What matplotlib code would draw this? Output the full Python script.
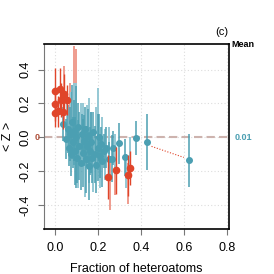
import matplotlib
matplotlib.use("Agg")
from matplotlib import pyplot as plt

plt.rcParams['font.family'] = ['Liberation Sans', 'DejaVu Sans']

# teal set, dark (with points)
teal_x = [0.04, 0.05, 0.06, 0.065, 0.07, 0.075, 0.08, 0.085, 0.09, 0.095, 0.10, 0.105,
          0.11, 0.115, 0.12, 0.125, 0.13, 0.135, 0.14, 0.145, 0.15, 0.155, 0.16, 0.165,
          0.17, 0.175, 0.18, 0.185, 0.19, 0.20, 0.205, 0.21, 0.215, 0.22, 0.23, 0.24,
          0.25, 0.265, 0.27, 0.30, 0.326, 0.377, 0.428, 0.623]
teal_y = [0.08, -0.01, 0.05, -0.06, 0.02, -0.10, 0.09, -0.03, 0.04, -0.08, 0.0, -0.12,
          0.06, -0.05, -0.15, 0.02, -0.09, -0.02, 0.05, -0.13, -0.05, 0.01, -0.17, -0.08,
          -0.03, -0.12, 0.03, -0.10, -0.16, -0.06, 0.0, -0.11, -0.04, -0.14, -0.08, -0.06,
          -0.13, -0.125, -0.065, -0.035, -0.118, -0.006, -0.03, -0.135]
teal_e = [0.10, 0.12, 0.14, 0.11, 0.16, 0.13, 0.22, 0.15, 0.18, 0.20, 0.30, 0.15,
          0.14, 0.20, 0.16, 0.12, 0.20, 0.15, 0.13, 0.20, 0.12, 0.16, 0.20, 0.14,
          0.18, 0.15, 0.12, 0.17, 0.17, 0.20, 0.14, 0.13, 0.10, 0.15, 0.10, 0.12,
          0.10, 0.14, 0.10, 0.12, 0.11, 0.10, 0.165, 0.155]

# teal set, light
tealb_x = [0.055, 0.075, 0.09, 0.10, 0.11, 0.12, 0.13, 0.14, 0.15, 0.16, 0.17, 0.18,
           0.19, 0.20, 0.21, 0.22, 0.235, 0.25, 0.28, 0.33, 0.35]
tealb_y = [0.10, 0.12, 0.08, 0.15, -0.10, 0.10, 0.05, -0.20, 0.08, -0.02, 0.05, -0.20,
           0.10, 0.05, -0.18, 0.02, -0.10, -0.02, -0.08, -0.20, -0.10]
tealb_e = [0.12, 0.15, 0.24, 0.17, 0.20, 0.10, 0.15, 0.15, 0.11, 0.25, 0.10, 0.12,
           0.08, 0.24, 0.12, 0.10, 0.15, 0.08, 0.10, 0.10, 0.10]

# red set, dark
red_x = [0.0, 0.0, 0.0, 0.014, 0.023, 0.028, 0.037, 0.042, 0.058, 0.246, 0.284, 0.34, 0.349]
red_y = [0.276, 0.194, 0.141, 0.153, 0.288, 0.218, 0.147, 0.253, 0.22, -0.235, -0.194, -0.224, -0.18]
red_e = [0.13, 0.10, 0.08, 0.09, 0.12, 0.10, 0.10, 0.12, 0.09, 0.13, 0.14, 0.12, 0.10]

# red set, light
redb_x = [0.045, 0.07, 0.09, 0.10, 0.256, 0.28, 0.34]
redb_y = [0.25, 0.20, 0.32, 0.28, -0.27, -0.22, -0.27]
redb_e = [0.17, 0.12, 0.22, 0.24, 0.16, 0.12, 0.12]

trend_x = [0.45, 0.60]
trend_y = [-0.053, -0.118]

teal = '#4b9fb2'
teal_l = '#95c8d4'
red = '#e0452a'
red_l = '#ef9c8e'

fig = plt.figure(figsize=(2.74, 2.74), dpi=100)
ax = fig.add_axes([0.1606, 0.1642, 0.675, 0.675])

ax.grid(True, color='#dddddd', linestyle=(0, (1, 2)), linewidth=0.8)
ax.set_axisbelow(True)

ax.axhline(0.005, color='#cdb3ae', linestyle=(0, (4, 2)), linewidth=1.5, zorder=1)

ax.errorbar(redb_x, redb_y, yerr=redb_e, fmt='none', ecolor=red_l, elinewidth=1.4, zorder=2)
ax.errorbar(tealb_x, tealb_y, yerr=tealb_e, fmt='none', ecolor=teal_l,
            elinewidth=1.4, zorder=3)
ax.errorbar(teal_x, teal_y, yerr=teal_e, fmt='o', color=teal, ecolor=teal,
            markersize=4, elinewidth=1.1, zorder=4)
ax.errorbar(red_x, red_y, yerr=red_e, fmt='o', color=red, ecolor=red,
            markersize=4.5, elinewidth=1.0, zorder=5)
ax.plot(trend_x, trend_y, color=red, linestyle=(0, (1, 1.5)), linewidth=0.8, zorder=5)

ax.set_xlim(-0.05, 0.81)
ax.set_ylim(-0.54, 0.55)
ax.set_xticks([0.0, 0.2, 0.4, 0.6, 0.8])
ax.set_xticklabels(['0.0', '0.2', '0.4', '0.6', '0.8'])
ax.set_yticks([-0.4, -0.2, 0.0, 0.2, 0.4])
ax.set_yticklabels(['-0.4', '-0.2', '0.0', '0.2', '0.4'], rotation=90, va='center')
ax.tick_params(labelsize=9, length=4, color='#777777', pad=5)

for s in ['top', 'right', 'bottom']:
    ax.spines[s].set_color('black')
    ax.spines[s].set_linewidth(1.2)
ax.spines['left'].set_color('#777777')

ax.set_xlabel('Fraction of heteroatoms', fontsize=9, labelpad=7)
ax.set_ylabel('< Z >', fontsize=9, labelpad=4)

fig.text(0.81, 0.865, '(c)', fontsize=8, ha='center', va='bottom')
fig.text(0.845, 0.838, 'Mean', fontsize=6.5, fontweight='bold', ha='left', va='center')
fig.text(0.855, 0.5, '0.01', fontsize=6.5, fontweight='bold', color=teal, ha='left', va='center')
fig.text(0.145, 0.5, '0', fontsize=6.5, fontweight='bold', color='#b0503a', ha='right', va='center')

fig.savefig('out.png', dpi=100)
